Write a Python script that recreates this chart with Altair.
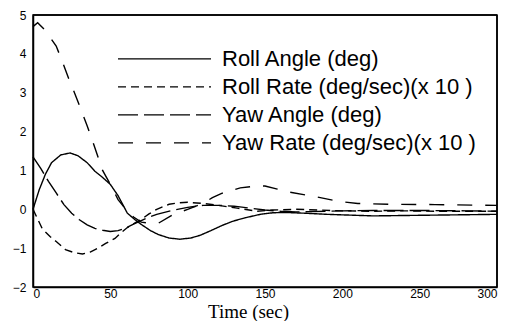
import altair as alt
import pandas as pd

# Roll Angle (deg)
roll_angle_t = [0, 4, 8, 12, 18, 24, 29, 35, 40, 45, 50, 55, 61, 66, 70, 76, 81, 88, 95, 102, 108, 115, 122, 129, 137, 147, 155, 162, 175, 190, 205, 220, 240, 260, 280, 300]
roll_angle_v = [0.0, 0.5, 0.9, 1.2, 1.4, 1.45, 1.38, 1.2, 0.98, 0.82, 0.64, 0.35, -0.1, -0.27, -0.39, -0.55, -0.65, -0.74, -0.77, -0.74, -0.67, -0.55, -0.42, -0.31, -0.22, -0.13, -0.09, -0.08, -0.1, -0.13, -0.15, -0.17, -0.16, -0.15, -0.14, -0.13]

# Roll Rate (deg/sec)(x 10)
roll_rate_t = [0, 6, 11, 15, 21, 27, 32, 37, 42, 47, 53, 57, 61, 66, 70, 75, 80, 88, 95, 100, 110, 120, 132, 145, 155, 170, 185, 200, 220, 240, 260, 280, 300]
roll_rate_v = [0.0, -0.5, -0.7, -0.83, -1.04, -1.12, -1.15, -1.1, -1.0, -0.88, -0.75, -0.6, -0.47, -0.35, -0.26, -0.12, 0.0, 0.13, 0.17, 0.18, 0.15, 0.1, 0.03, -0.05, -0.02, 0.0, -0.02, -0.04, -0.05, -0.04, -0.05, -0.05, -0.05]

# Yaw Angle (deg)
yaw_angle_t = [0, 5, 10, 15, 20, 25, 30, 35, 40, 45, 50, 55, 60, 65, 70, 75, 80, 90, 100, 110, 120, 130, 140, 150, 160, 170, 180, 200, 220, 250, 280, 300]
yaw_angle_v = [1.35, 1.05, 0.72, 0.42, 0.12, -0.1, -0.27, -0.4, -0.49, -0.54, -0.57, -0.55, -0.48, -0.38, -0.29, -0.2, -0.13, -0.03, 0.05, 0.1, 0.1, 0.08, 0.03, -0.02, -0.05, -0.07, -0.06, -0.04, -0.03, -0.03, -0.04, -0.05]

# Yaw Rate (deg/sec)(x 10)
yaw_rate_t = [0, 3, 8, 15, 19, 23, 27, 31, 35, 39, 45, 50, 55, 60, 65, 70, 75, 81, 90, 100, 110, 116, 122, 134, 145, 150, 158, 166, 182, 198, 210, 230, 260, 300]
yaw_rate_v = [4.7, 4.8, 4.6, 4.2, 3.8, 3.37, 2.98, 2.57, 2.15, 1.7, 1.0, 0.64, 0.25, 0.0, -0.2, -0.33, -0.36, -0.36, -0.15, 0.0, 0.15, 0.3, 0.41, 0.55, 0.6, 0.6, 0.52, 0.44, 0.33, 0.2, 0.15, 0.13, 0.12, 0.1]

series_names = [
    "Roll Angle (deg)",
    "Roll Rate (deg/sec)(x 10 )",
    "Yaw Angle (deg)",
    "Yaw Rate (deg/sec)(x 10 )",
]
series_t = [roll_angle_t, roll_rate_t, yaw_angle_t, yaw_rate_t]
series_v = [roll_angle_v, roll_rate_v, yaw_angle_v, yaw_rate_v]

x_ticks = [0, 50, 100, 150, 200, 250, 300]
y_ticks = [-2, -1, 0, 1, 2, 3, 4, 5]

rows = []
for name, ts, vs in zip(series_names, series_t, series_v):
    for t, v in zip(ts, vs):
        rows.append({"series": name, "t": t, "v": v})
df = pd.DataFrame(rows)

dashes = [[1, 0], [8, 5], [20, 6], [15, 13]]

x_scale = alt.Scale(domain=[x_ticks[0], x_ticks[-1]], nice=False)
y_scale = alt.Scale(domain=[y_ticks[0], y_ticks[-1]], nice=False)

x_axis = alt.Axis(
    values=x_ticks,
    grid=False,
    title="Time (sec)",
    titleFont="Liberation Serif",
    titleFontSize=19,
    titleFontWeight="normal",
    titleColor="black",
    titleBaseline="alphabetic",
    titleY=30,
    titleX=215,
    labelPadding=1,
    labelOverlap=False,
)
y_axis = alt.Axis(
    values=y_ticks, grid=False, title=None, labelPadding=7, labelOverlap=False
)

lines = (
    alt.Chart(df)
    .mark_line(color="black", strokeWidth=1.4)
    .encode(
        x=alt.X("t:Q", scale=x_scale, axis=x_axis),
        y=alt.Y("v:Q", scale=y_scale, axis=y_axis),
        strokeDash=alt.StrokeDash(
            "series:N",
            scale=alt.Scale(domain=series_names, range=dashes),
            legend=alt.Legend(
                title=None,
                orient="none",
                legendX=84,
                legendY=30,
                symbolType="stroke",
                symbolSize=8649,
                symbolStrokeWidth=1.4,
                symbolStrokeColor="black",
                labelFont="Liberation Sans",
                labelFontSize=22,
                labelColor="black",
                labelOffset=10,
                labelLimit=0,
                clipHeight=27.7,
                rowPadding=0,
                padding=0,
            ),
        ),
        order="t:Q",
        detail="series:N",
    )
)

# plot frame: top and right edges at the axis maxima
frame_top = alt.Chart().mark_rule(color="black", strokeWidth=1.5).encode(
    y=alt.YDatum(y_ticks[-1], scale=y_scale, axis=y_axis)
)
frame_right = alt.Chart().mark_rule(color="black", strokeWidth=1.5).encode(
    x=alt.XDatum(x_ticks[-1], scale=x_scale, axis=x_axis)
)

chart = (
    alt.layer(lines, frame_top, frame_right)
    .properties(
        width=464,
        height=272,
        background="white",
        autosize=alt.AutoSizeParams(type="none"),
        padding={"left": 25, "top": 7, "right": 5, "bottom": 34},
    )
    .configure_view(stroke="black", strokeWidth=1.5)
    .configure_axis(
        grid=False,
        domain=True,
        domainColor="black",
        domainWidth=1.5,
        ticks=False,
        labelFont="Liberation Sans",
        labelFontSize=12,
        labelColor="black",
        format="d",
    )
)

chart.save("out.html", embed_options={"renderer": "svg", "actions": False})
